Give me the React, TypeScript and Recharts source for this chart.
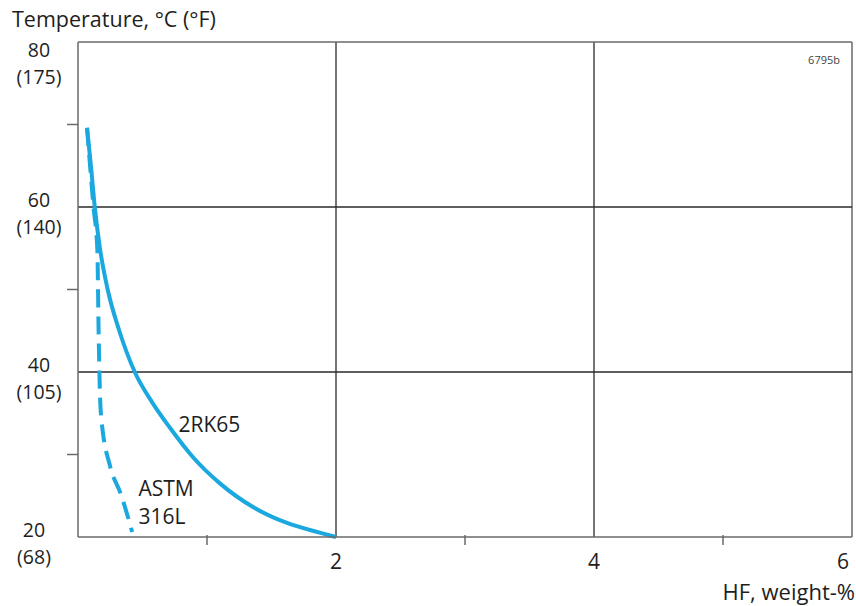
import React from 'react';
import { ComposedChart, Line, XAxis, YAxis, ReferenceLine, ReferenceDot } from 'recharts';

// HF concentration (weight-%) vs temperature (°C) — iso-corrosion curves
const rk65X = [0.07, 0.1, 0.13, 0.17, 0.23, 0.32, 0.44, 0.58, 0.71, 0.89, 1.1, 1.36, 1.62, 1.88, 2.0];
const rk65T = [69.6, 65, 60, 55, 50, 45, 40, 36.2, 33.3, 29.7, 26.5, 23.6, 21.7, 20.5, 20];

const astmX = [0.07, 0.12, 0.15, 0.16, 0.17, 0.18, 0.25, 0.33, 0.42];
const astmT = [69.6, 60, 54.8, 44.7, 37.5, 34.5, 28.5, 25.3, 20.6];

const xTicks = [1, 2, 3, 4, 5, 6];
const yTicks = [20, 30, 40, 50, 60, 70, 80];
const fahrenheit: Record<number, string> = { 20: '(68)', 40: '(105)', 60: '(140)', 80: '(175)' };

const rk65 = rk65X.map((x, i) => ({ x, t: rk65T[i] }));
const astm = astmX.map((x, i) => ({ x, t: astmT[i] }));

const FONT = '"Open Sans", sans-serif';
const BLUE = '#1ba8de';
const GRID = '#2a2a2a';
const AXIS = '#6a6a6a';
const INK = '#1e1e1e';

const XTick = (props: any) => {
  const { x, y, payload } = props;
  const v = payload.value;
  if (v % 2 === 1) {
    return <line x1={x} x2={x} y1={y - 8} y2={y + 2} stroke={AXIS} strokeWidth={1.5} />;
  }
  return (
    <text x={v === 6 ? x - 9 : x} y={y + 26} textAnchor="middle" fontSize={21} fill={INK} fontFamily={FONT}>
      {v}
    </text>
  );
};

const YTick = (props: any) => {
  const { y, payload } = props;
  const v = payload.value;
  if (v % 20 !== 0) {
    return <line x1={67} x2={78} y1={y} y2={y} stroke={AXIS} strokeWidth={1.5} />;
  }
  const f = fahrenheit[v];
  const cx = 14 + (f.length * 10) / 2;
  const base = v === 80 ? y + 15 : y;
  return (
    <g fontSize={19.5} fill={INK} fontFamily={FONT}>
      <text x={cx} y={base} textAnchor="middle">{v}</text>
      <text x={cx} y={base + 26.5} textAnchor="middle">{f}</text>
    </g>
  );
};

const lbl = (value: string) => ({ value, position: 'right' as const, fontSize: 21, fill: INK, fontFamily: FONT });

const App: React.FC = () => {
  return (
    <div style={{ position: 'absolute', left: 0, top: 0, width: 856, height: 606, background: '#fff' }}>
      <ComposedChart width={856} height={606} margin={{ top: 42, right: 4, bottom: 0, left: 0 }}>
        <XAxis
          type="number"
          dataKey="x"
          domain={[0, 6]}
          ticks={xTicks}
          tick={<XTick />}
          tickLine={false}
          axisLine={{ stroke: AXIS, strokeWidth: 1.5 }}
          height={69}
          tickMargin={0}
          interval={0}
        />
        <YAxis
          type="number"
          domain={[20, 80]}
          ticks={yTicks}
          tick={<YTick />}
          tickLine={false}
          axisLine={{ stroke: AXIS, strokeWidth: 1.5 }}
          width={78}
          tickMargin={0}
          interval={0}
        />
        <ReferenceLine x={2} stroke={GRID} strokeWidth={1.3} />
        <ReferenceLine x={4} stroke={GRID} strokeWidth={1.3} />
        <ReferenceLine x={6} stroke={AXIS} strokeWidth={1.5} />
        <ReferenceLine y={40} stroke={GRID} strokeWidth={1.3} />
        <ReferenceLine y={60} stroke={GRID} strokeWidth={1.3} />
        <ReferenceLine y={80} stroke={AXIS} strokeWidth={1.5} />
        <Line
          data={astm}
          dataKey="t"
          type="monotone"
          stroke={BLUE}
          strokeWidth={4}
          strokeDasharray="18 9"
          dot={false}
          isAnimationActive={false}
        />
        <Line
          data={rk65}
          dataKey="t"
          type="monotone"
          stroke={BLUE}
          strokeWidth={4}
          dot={false}
          isAnimationActive={false}
        />
        <ReferenceDot x={0.74} y={33.6} r={0} label={lbl('2RK65')} />
        <ReferenceDot x={0.43} y={25.9} r={0} label={lbl('ASTM')} />
        <ReferenceDot x={0.43} y={22.5} r={0} label={lbl('316L')} />
      </ComposedChart>
      <svg
        width={856}
        height={606}
        style={{ position: 'absolute', left: 0, top: 0, pointerEvents: 'none' }}
        fontFamily={FONT}
      >
        <text x={12} y={27} fontSize={21.5} fill={INK}>Temperature, °C (°F)</text>
        <text x={840} y={64} fontSize={11} fill="#444" textAnchor="end">6795b</text>
        <text x={855} y={600} fontSize={22} fill={INK} textAnchor="end">HF, weight-%</text>
      </svg>
    </div>
  );
};

export default App;
